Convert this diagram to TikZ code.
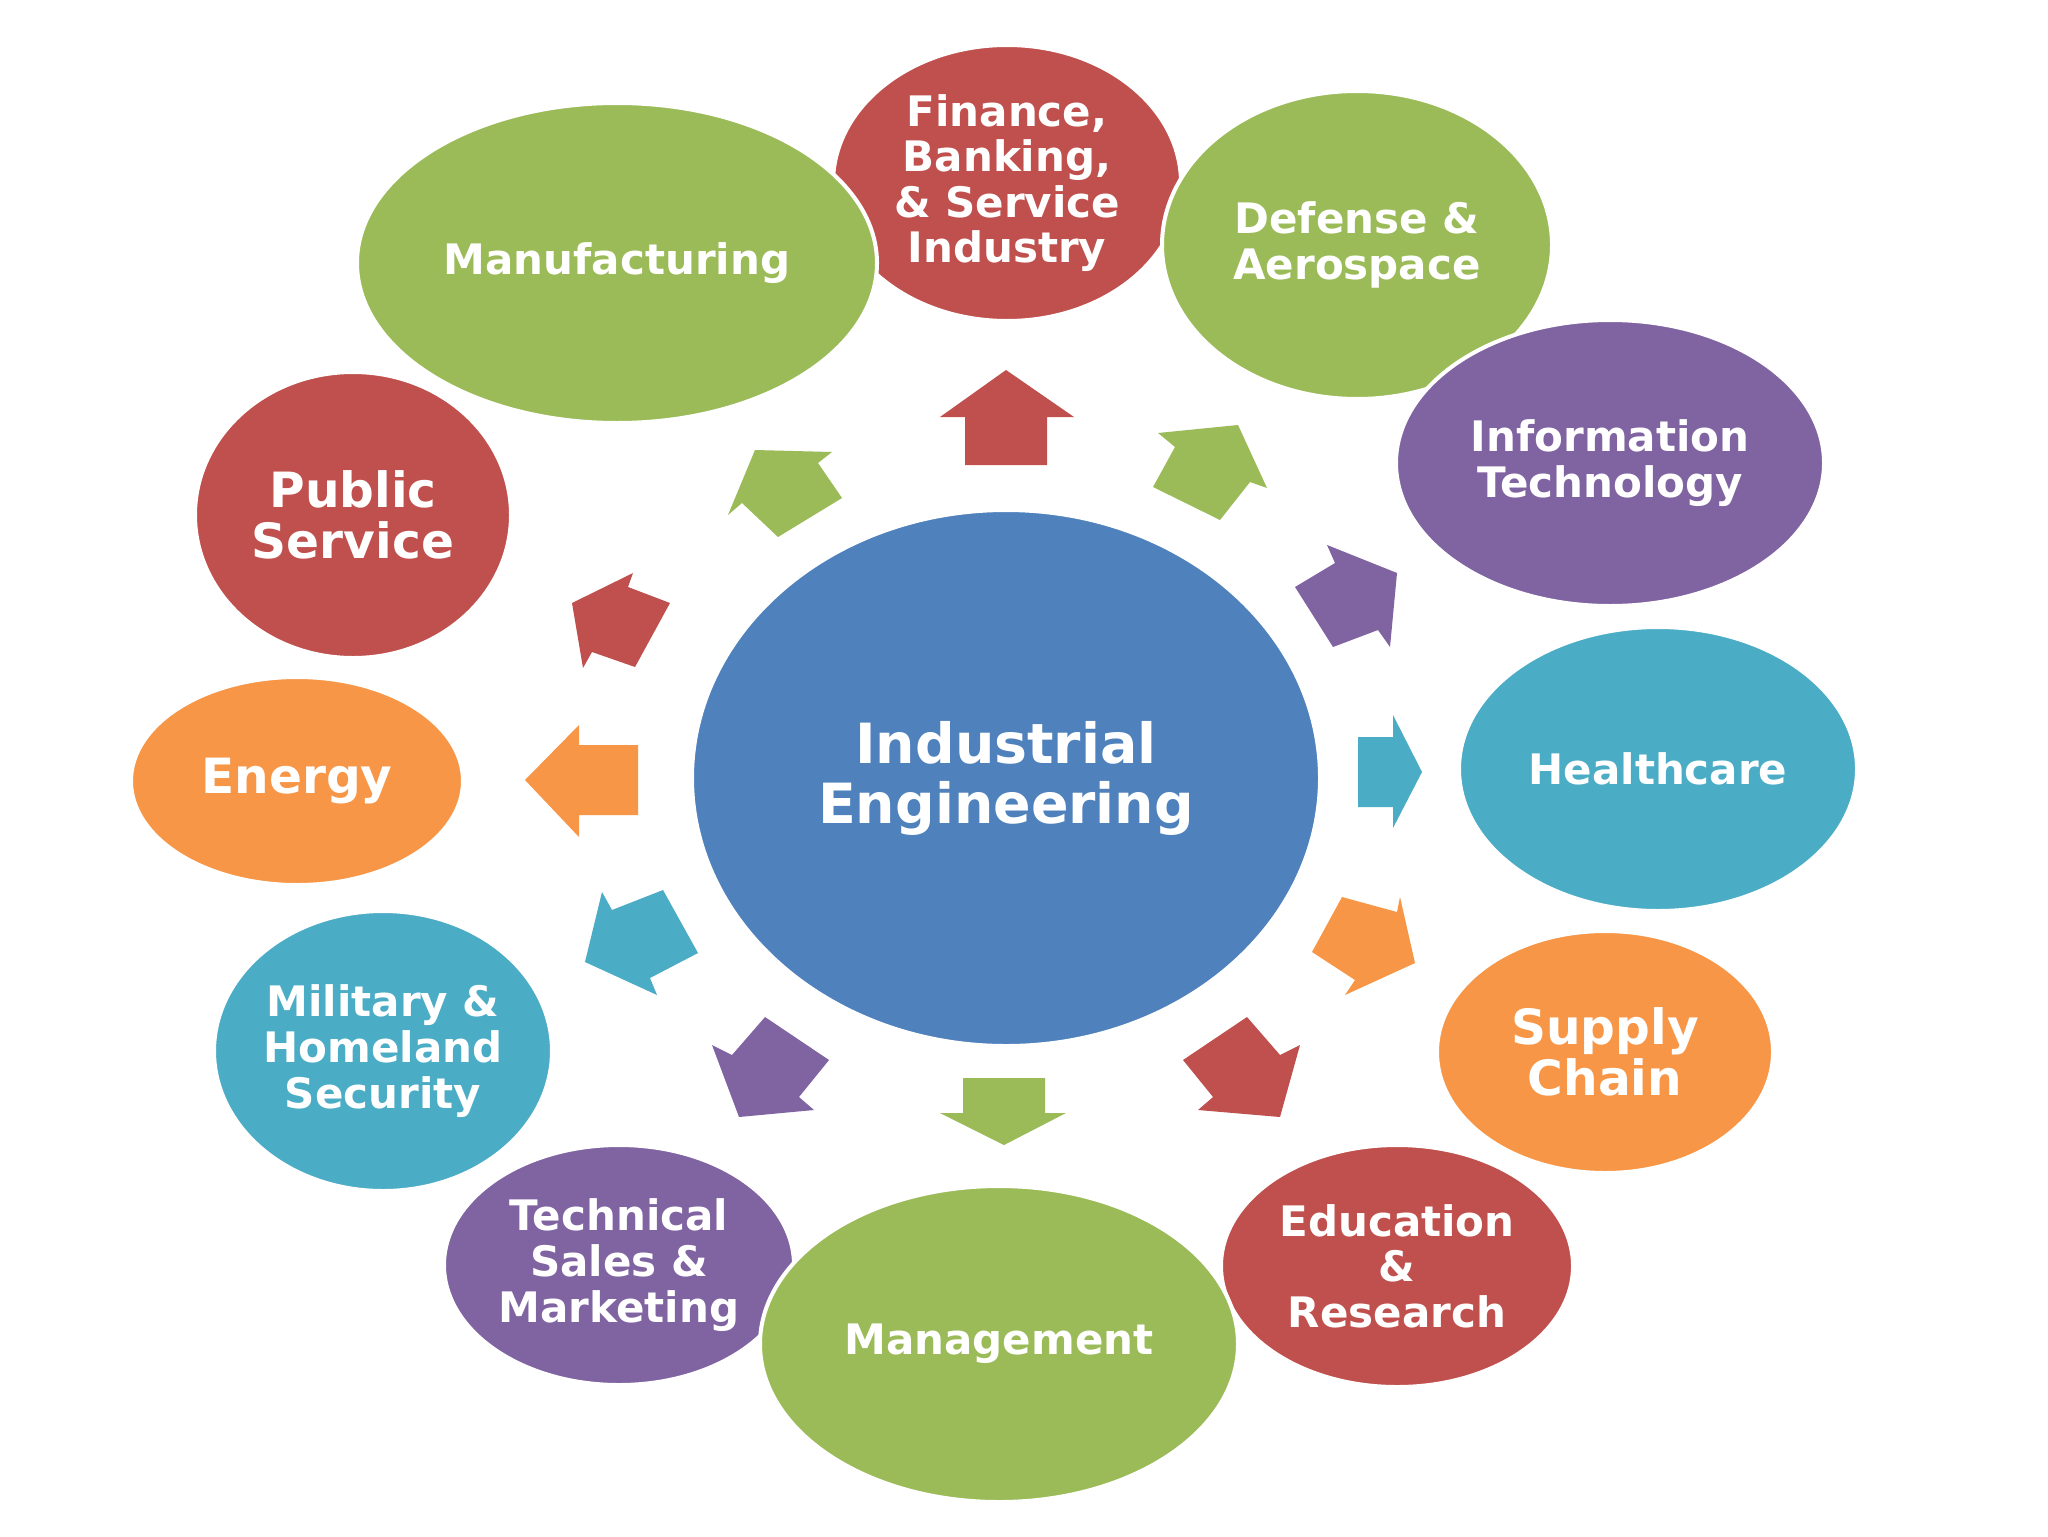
\documentclass[tikz,border=0pt]{standalone}
\usepackage{fontspec}
\setmainfont{DejaVu Sans}
\usetikzlibrary{shapes.geometric}
\definecolor{ogreen}{HTML}{9BBB59}
\definecolor{ored}{HTML}{C0504D}
\definecolor{opurple}{HTML}{8064A2}
\definecolor{ocyan}{HTML}{4BACC6}
\definecolor{oorange}{HTML}{F79646}
\definecolor{oblue}{HTML}{4F81BD}
\newcommand{\labS}{\fontsize{21}{22.8}\selectfont\bfseries}
\newcommand{\labL}{\fontsize{24.3}{25.5}\selectfont\bfseries}
\newcommand{\labC}{\fontsize{27.7}{30}\selectfont\bfseries}
\tikzset{
  bub/.style={ellipse, draw=white, line width=2pt, inner sep=0pt, text=white, align=center, font=\labS},
  big/.style={font=\labL},
  hub/.style={font=\labC},
  blockarrow/.style={line join=round}
}
\begin{document}
\begin{tikzpicture}[x=0.5pt,y=-0.5pt]
\useasboundingbox (0,0) rectangle (2048,1536);
\fill[white] (0,0) rectangle (2048,1536);

% outer bubbles
\node[bub, fill=ored, minimum width=174pt, minimum height=138pt] (fin) at (1007,183) {Finance,\\Banking,\\\& Service\\Industry};
\node[bub, fill=ogreen, minimum width=260pt, minimum height=160pt] (man) at (617,263) {Manufacturing};
\node[bub, fill=ogreen, minimum width=195pt, minimum height=154pt] (def) at (1357,245) {Defense \&\\Aerospace};
\node[bub, fill=opurple, minimum width=214pt, minimum height=143pt] (it) at (1610,463) {Information\\Technology};
\node[bub, fill=ocyan, minimum width=199pt, minimum height=142pt] (hc) at (1658,769) {Healthcare};
\node[bub, big, fill=oorange, minimum width=168pt, minimum height=121pt] (sc) at (1605,1052) {Supply\\Chain};
\node[bub, fill=opurple, minimum width=175pt, minimum height=120pt] (tsm) at (619,1265) {Technical\\Sales \&\\Marketing};
\node[bub, fill=ored, minimum width=176pt, minimum height=121pt] (edu) at (1397,1266) {Education\\\&\\Research};
\node[bub, fill=ogreen, minimum width=239pt, minimum height=158pt] (mgmt) at (999,1344) {Management};
\node[bub, fill=ocyan, minimum width=168pt, minimum height=140pt] (mil) at (383,1051) {Military \&\\Homeland\\Security};
\node[bub, big, fill=oorange, minimum width=166pt, minimum height=104pt] (en) at (297,781) {Energy};
\node[bub, big, fill=ored, minimum width=158pt, minimum height=143pt] (ps) at (353,515) {Public\\Service};

% hub
\node[bub, hub, fill=oblue, minimum width=314pt, minimum height=268pt] (ie) at (1006,778) {Industrial\\Engineering};

% block arrows (drawn as shapes)
\fill[blockarrow, ored] (965,465) -- (965,417) -- (940,417) -- (1006,370) -- (1074,417) -- (1047,417) -- (1047,465) -- cycle;
\fill[blockarrow, ogreen] (1153,487) -- (1175,447) -- (1158,433) -- (1238,425) -- (1267,488) -- (1250,482) -- (1220,520) -- cycle;
\fill[blockarrow, opurple] (1295,587) -- (1335,563) -- (1327,545) -- (1397,573) -- (1390,647) -- (1378,630) -- (1333,647) -- cycle;
\fill[blockarrow, ocyan] (1358,737) -- (1393,737) -- (1393,715) -- (1422,772) -- (1393,828) -- (1393,807) -- (1358,807) -- cycle;
\fill[blockarrow, oorange] (1342,897) -- (1397,912) -- (1400,897) -- (1415,963) -- (1345,995) -- (1355,980) -- (1312,952) -- cycle;
\fill[blockarrow, ored] (1247,1017) -- (1280,1055) -- (1300,1045) -- (1280,1117) -- (1198,1110) -- (1213,1097) -- (1183,1060) -- cycle;
\fill[blockarrow, ogreen] (963,1078) -- (963,1113) -- (940,1113) -- (1004,1145) -- (1066,1113) -- (1045,1113) -- (1045,1078) -- cycle;
\fill[blockarrow, opurple] (765,1017) -- (732,1055) -- (712,1045) -- (739,1117) -- (814,1110) -- (799,1097) -- (829,1060) -- cycle;
\fill[blockarrow, ocyan] (663,890) -- (612,910) -- (602,892) -- (585,962) -- (657,995) -- (650,978) -- (698,953) -- cycle;
\fill[blockarrow, oorange] (638,745) -- (579,745) -- (579,725) -- (525,780) -- (579,837) -- (579,815) -- (638,815) -- cycle;
\fill[blockarrow, ored] (670,603) -- (628,587) -- (633,573) -- (572,603) -- (583,668) -- (592,652) -- (635,667) -- cycle;
\fill[blockarrow, ogreen] (842,498) -- (818,463) -- (832,452) -- (755,450) -- (728,515) -- (742,503) -- (778,537) -- cycle;
\end{tikzpicture}
\end{document}
